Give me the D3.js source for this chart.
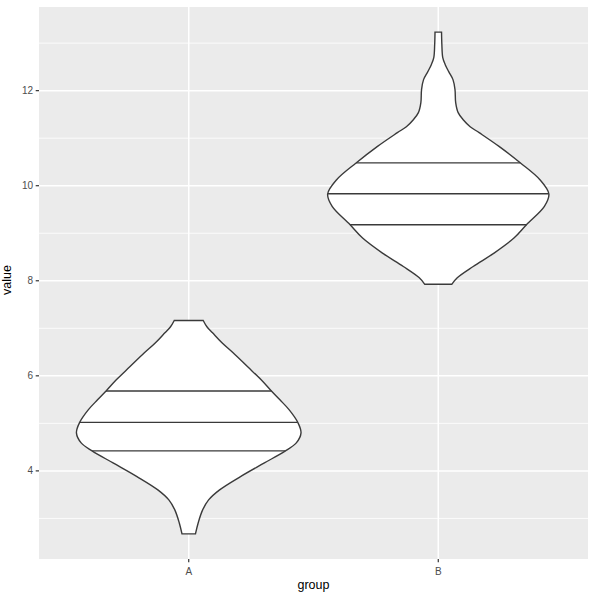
<!DOCTYPE html>
<html><head><meta charset="utf-8">
<script src="https://cdn.jsdelivr.net/npm/d3@7"></script>
<style>body{margin:0;background:#fff}svg{display:block}text{font-family:"Liberation Sans",Arial,sans-serif}</style>
</head><body><svg id="c" width="603" height="596"></svg>
<script>
const groups = ["A", "B"];
// violin outline: value grid and relative density (kernel estimate)
const valuesA = [7.164, 7.032, 6.905, 6.695, 6.484, 6.189, 5.916, 5.691, 5.495, 5.284, 5.017, 4.800, 4.589, 4.421, 4.168, 3.880, 3.600, 3.389, 3.179, 2.905, 2.674];
const densityA = [0.129, 0.162, 0.212, 0.296, 0.395, 0.525, 0.645, 0.732, 0.812, 0.895, 0.972, 1.000, 0.958, 0.861, 0.674, 0.461, 0.275, 0.177, 0.124, 0.084, 0.060];
const valuesB = [13.232, 12.968, 12.695, 12.547, 12.400, 12.232, 12.021, 11.747, 11.537, 11.389, 11.242, 11.116, 10.827, 10.478, 10.126, 9.825, 9.564, 9.179, 8.899, 8.583, 8.301, 8.063, 7.926];
const densityB = [0.029, 0.032, 0.040, 0.062, 0.093, 0.131, 0.149, 0.155, 0.177, 0.222, 0.284, 0.364, 0.541, 0.732, 0.905, 0.985, 0.945, 0.785, 0.674, 0.497, 0.311, 0.169, 0.120];
const quantilesA = [4.42, 5.02, 5.68];
const quantilesB = [9.18, 9.83, 10.48];
const yTicks = [4, 6, 8, 10, 12];
const yMinor = [3, 5, 7, 9, 11, 13];

const svg = d3.select("#c");
const P = {l: 39, r: 588, t: 7, b: 559};
const all = valuesA.concat(valuesB);
const lo = d3.min(all), hi = d3.max(all), ex = (hi - lo) * 0.05;
const y = d3.scaleLinear().domain([lo - ex, hi + ex]).range([P.b, P.t]);
const x = d3.scalePoint().domain(groups).range([P.l, P.r]).padding(0.6);
const halfW = 0.45 * x.step();

svg.append("rect").attr("x", P.l).attr("y", P.t).attr("width", P.r - P.l).attr("height", P.b - P.t).attr("fill", "#EBEBEB");
const g = svg.append("g");
g.selectAll(".mn").data(yMinor).join("line").attr("x1", P.l).attr("x2", P.r)
  .attr("y1", d => y(d)).attr("y2", d => y(d)).attr("stroke", "#fff").attr("stroke-width", 0.8);
g.selectAll(".mj").data(yTicks).join("line").attr("x1", P.l).attr("x2", P.r)
  .attr("y1", d => y(d)).attr("y2", d => y(d)).attr("stroke", "#fff").attr("stroke-width", 1.5);
g.selectAll(".mx").data(groups).join("line").attr("y1", P.t).attr("y2", P.b)
  .attr("x1", d => x(d)).attr("x2", d => x(d)).attr("stroke", "#fff").attr("stroke-width", 1.5);

const violins = [
  {g: "A", v: valuesA, d: densityA, q: quantilesA},
  {g: "B", v: valuesB, d: densityB, q: quantilesB}
];
const maxD = d3.max(densityA.concat(densityB));
violins.forEach(vi => {
  const cx = x(vi.g);
  const pts = vi.v.map((v, i) => ({v, d: vi.d[i]})).sort((a, b) => b.v - a.v);
  const area = d3.area().curve(d3.curveCatmullRom.alpha(0.5))
    .y(p => y(p.v)).x0(p => cx - p.d / maxD * halfW).x1(p => cx + p.d / maxD * halfW);
  svg.append("path").attr("d", area(pts)).attr("fill", "#fff").attr("stroke", "#3a3a3a").attr("stroke-width", 1.4);
  const asc = pts.slice().reverse();
  const dens = d3.scaleLinear().domain(asc.map(p => p.v)).range(asc.map(p => p.d));
  vi.q.forEach(q => {
    const w = dens(q) / maxD * halfW;
    svg.append("line").attr("x1", cx - w).attr("x2", cx + w).attr("y1", y(q)).attr("y2", y(q))
      .attr("stroke", "#3a3a3a").attr("stroke-width", 1.4);
  });
});

// axes
const ya = svg.append("g");
ya.selectAll("line").data(yTicks).join("line").attr("x1", P.l - 3.3).attr("x2", P.l)
  .attr("y1", d => y(d)).attr("y2", d => y(d)).attr("stroke", "#333333").attr("stroke-width", 1.2);
ya.selectAll("text").data(yTicks).join("text").attr("x", P.l - 6).attr("y", d => y(d)).attr("dy", "0.35em")
  .attr("text-anchor", "end").attr("font-size", 10).attr("fill", "#4D4D4D").text(d => d);
const xa = svg.append("g");
xa.selectAll("line").data(groups).join("line").attr("y1", P.b).attr("y2", P.b + 3.3)
  .attr("x1", d => x(d)).attr("x2", d => x(d)).attr("stroke", "#333333").attr("stroke-width", 1.2);
xa.selectAll("text").data(groups).join("text").attr("x", d => x(d)).attr("y", P.b + 15.5)
  .attr("text-anchor", "middle").attr("font-size", 10).attr("fill", "#4D4D4D").text(d => d);
svg.append("text").attr("x", (P.l + P.r) / 2).attr("y", 589).attr("text-anchor", "middle")
  .attr("font-size", 12.5).attr("fill", "#000").text("group");
svg.append("text").attr("transform", `translate(11,280) rotate(-90)`).attr("text-anchor", "middle")
  .attr("font-size", 12.5).attr("fill", "#000").text("value");
</script></body></html>
